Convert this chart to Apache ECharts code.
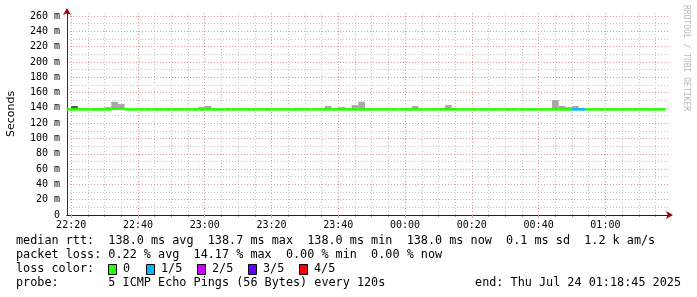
<!DOCTYPE html>
<html>
<head>
<meta charset="UTF-8">
<title>smokeping</title>
<script src="https://cdn.jsdelivr.net/npm/echarts@6/dist/echarts.min.js"></script>
<style>
    html, body { margin: 0; padding: 0; background: #fff; }
    #chart { width: 697px; height: 297px; }
</style>
</head>
<body>
<div id="chart"></div>
<script>
// one slot every 120s, start time of each slot
var slotTimes = [
    '22:18', '22:20', '22:22', '22:24', '22:26', '22:28', '22:30', '22:32', '22:34', '22:36',
    '22:38', '22:40', '22:42', '22:44', '22:46', '22:48', '22:50', '22:52', '22:54', '22:56',
    '22:58', '23:00', '23:02', '23:04', '23:06', '23:08', '23:10', '23:12', '23:14', '23:16',
    '23:18', '23:20', '23:22', '23:24', '23:26', '23:28', '23:30', '23:32', '23:34', '23:36',
    '23:38', '23:40', '23:42', '23:44', '23:46', '23:48', '23:50', '23:52', '23:54', '23:56',
    '23:58', '00:00', '00:02', '00:04', '00:06', '00:08', '00:10', '00:12', '00:14', '00:16',
    '00:18', '00:20', '00:22', '00:24', '00:26', '00:28', '00:30', '00:32', '00:34', '00:36',
    '00:38', '00:40', '00:42', '00:44', '00:46', '00:48', '00:50', '00:52', '00:54', '00:56',
    '00:58', '01:00', '01:02', '01:04', '01:06', '01:08', '01:10', '01:12', '01:14', '01:16'
];
var slotMinutes = 2;

// median rtt (ms)
var medianRtt = [
    138, 138, 138, 138, 138, 138, 138, 139, 139, 138,
    138, 138, 138, 138, 138, 138, 138, 138, 138, 138,
    138, 138, 138, 138, 138, 138, 138, 138, 138, 138,
    138, 138, 138, 138, 138, 138, 138, 138, 138, 138,
    138, 138, 138, 138, 138, 138, 138, 138, 138, 138,
    138, 138, 138, 138, 138, 138, 138, 138, 138, 138,
    138, 138, 138, 138, 138, 138, 138, 138, 138, 138,
    138, 138, 138, 138, 138, 138, 138, 138, 138, 138,
    138, 138, 138, 138, 138, 138, 138, 138, 138, 138
];
// second highest ping (ms)
var ping2nd = [
    138, 142.4, 138, 138, 138, 138, 138, 139, 139, 138,
    138, 138, 138, 138, 138, 138, 138, 138, 138, 138,
    138, 138, 138, 138, 138, 138, 138, 138, 138, 138,
    138, 138, 138, 138, 138, 138, 138, 138, 138, 138,
    138, 138, 138, 138, 138, 138, 138, 138, 138, 138,
    138, 138, 138, 138, 138, 138, 138, 138, 138, 138,
    138, 138, 138, 138, 138, 138, 138, 138, 138, 138,
    138, 138, 138, 138, 138, 138, 138, 138, 138, 138,
    138, 138, 138, 138, 138, 138, 138, 138, 138, 138
];
// highest ping (ms)
var pingMax = [
    138, 142.4, 140, 138, 140, 140, 141, 148, 145, 138,
    138, 138, 138, 138, 138, 138, 138, 138, 138, 138,
    141, 142.5, 138, 138, 138, 138, 138, 138, 138, 138,
    138, 138, 138, 138, 138, 140, 138, 138, 140, 142.5,
    140, 141, 140, 143.7, 148, 140, 138, 138, 138, 138,
    138, 140, 142.5, 138, 138, 138, 140, 143.7, 140, 138,
    138, 138, 138, 138, 138, 138, 138, 138, 138, 138,
    138, 138, 138, 150.2, 142.5, 141, 142.5, 140, 138, 138,
    138, 138, 138, 138, 138, 138, 140, 138, 138, 138
];
// lost pings out of 5
var lostPings = [
    0, 0, 0, 0, 0, 0, 0, 0, 0, 0,
    0, 0, 0, 0, 0, 0, 0, 0, 0, 0,
    0, 0, 0, 0, 0, 0, 0, 0, 0, 0,
    0, 0, 0, 0, 0, 0, 0, 0, 0, 0,
    0, 0, 0, 0, 0, 0, 0, 0, 0, 0,
    0, 0, 0, 0, 0, 0, 0, 0, 0, 0,
    0, 0, 0, 0, 0, 0, 0, 0, 0, 0,
    0, 0, 0, 0, 0, 0, 1, 1, 0, 0,
    0, 0, 0, 0, 0, 0, 0, 0, 0, 0
];

var xStart = '22:18:45', xEnd = '01:18:45';
var xTickLabels = ['22:20', '22:40', '23:00', '23:20', '23:40', '00:00', '00:20', '00:40', '01:00'];
var yTickLabels = [0, 20, 40, 60, 80, 100, 120, 140, 160, 180, 200, 220, 240, 260];
var yMax = 264;

var lossNames = ['0', '1/5', '2/5', '3/5', '4/5'];
var lossColors = ['#26ff00', '#00b8ff', '#d000ff', '#6000ff', '#ff0000'];

var statLines = [
    'median rtt:  138.0 ms avg  138.7 ms max  138.0 ms min  138.0 ms now  0.1 ms sd  1.2 k am/s',
    'packet loss: 0.22 % avg  14.17 % max  0.00 % min  0.00 % now'
];
var probeText = 'probe:       5 ICMP Echo Pings (56 Bytes) every 120s';
var endText = 'end: Thu Jul 24 01:18:45 2025';

// clock -> minutes after 22:00
function toMin(s) {
    var p = s.split(':');
    var h = +p[0];
    if (h < 12) h += 24;
    return (h - 22) * 60 + (+p[1]) + (p[2] ? +p[2] / 60 : 0);
}
function fmtClock(m) {
    var h = (22 + Math.floor(m / 60)) % 24, mm = Math.round(m % 60);
    return (h < 10 ? '0' : '') + h + ':' + (mm < 10 ? '0' : '') + mm;
}

var xMin = toMin(xStart), xMax = toMin(xEnd);
var majorX = xTickLabels.map(toMin);
var minorX = [];
for (var m = Math.ceil(xMin / 5) * 5; m <= xMax; m += 5) minorX.push(m);
var minorY = [];
for (var v = 0; v <= yMax; v += 10) minorY.push(v);

var denseData = [], outerData = [], medianData = [];
slotTimes.forEach(function (t, i) {
    var t0 = toMin(t);
    denseData.push([t0, medianRtt[i], ping2nd[i]]);
    outerData.push([t0, ping2nd[i], pingMax[i]]);
    medianData.push([t0, medianRtt[i], lostPings[i]]);
});

function renderBand(params, api) {
    var t0 = api.value(0), lo = api.value(1), hi = api.value(2);
    if (hi <= lo) return null;
    var a = api.coord([t0, hi]), b = api.coord([t0 + slotMinutes, lo]);
    var r = echarts.graphic.clipRectByRect({x: a[0], y: a[1], width: b[0] - a[0], height: b[1] - a[1]}, params.coordSys);
    if (!r) return null;
    return {type: 'rect', shape: r, style: {fill: api.visual('color')}};
}

function renderMedian(params, api) {
    var t0 = api.value(0), val = api.value(1), loss = api.value(2);
    var a = api.coord([t0, val]), b = api.coord([t0 + slotMinutes, val]);
    var r = echarts.graphic.clipRectByRect({x: a[0], y: a[1] - 1.3, width: b[0] - a[0], height: 2.6}, params.coordSys);
    if (!r) return null;
    return {type: 'rect', shape: r, style: {fill: lossColors[loss]}};
}

var mono = '"DejaVu Sans Mono", monospace';
var minorGrid = {color: '#c4c4c4', type: [1, 2], width: 1};
var majorGrid = {color: '#e49a9a', type: [1, 2], width: 1};
var arrowRed = '#a00000';

var graphics = [];
statLines.forEach(function (s, i) {
    graphics.push({type: 'text', x: 16, y: 241 + i * 14,
        style: {text: s, font: '11.8px ' + mono, fill: '#000', verticalAlign: 'middle'}});
});
graphics.push({type: 'text', x: 16, y: 269,
    style: {text: 'loss color:', font: '11.8px ' + mono, fill: '#000', verticalAlign: 'middle'}});
var legendX = [108, 146, 197, 248, 299];
lossNames.forEach(function (n, i) {
    graphics.push({type: 'rect', shape: {x: legendX[i] + 0.5, y: 264.5, width: 8, height: 10},
        style: {fill: lossColors[i], stroke: '#000', lineWidth: 1}});
    graphics.push({type: 'text', x: legendX[i] + 15, y: 269,
        style: {text: n, font: '11.8px ' + mono, fill: '#000', verticalAlign: 'middle'}});
});
graphics.push({type: 'text', x: 16, y: 283,
    style: {text: probeText, font: '11.8px ' + mono, fill: '#000', verticalAlign: 'middle'}});
graphics.push({type: 'text', x: 681, y: 283,
    style: {text: endText, font: '11.8px ' + mono, fill: '#000', align: 'right', verticalAlign: 'middle'}});
graphics.push({type: 'text', x: 686, y: 5, rotation: -Math.PI / 2,
    style: {text: 'RRDTOOL / TOBI OETIKER', font: '8px ' + mono, fill: '#b8b8b8', verticalAlign: 'middle'}});

var option = {
    animation: false,
    backgroundColor: '#fff',
    grid: {left: 67, right: 29, top: 13, bottom: 82, containLabel: false, outerBoundsMode: 'none'},
    xAxis: [
        {
            type: 'value', min: xMin, max: xMax, z: 0, position: 'bottom',
            axisLine: {show: true, lineStyle: {color: arrowRed}, symbol: ['none', 'arrow'], symbolSize: [6, 7], symbolOffset: [0, 5]},
            axisTick: {show: true, length: 2, customValues: minorX, lineStyle: {color: '#999'}},
            axisLabel: {show: false},
            splitLine: {show: true, lineStyle: minorGrid}
        },
        {
            type: 'value', min: xMin, max: xMax, z: 1, position: 'bottom',
            axisLine: {show: true, lineStyle: {color: '#222'}},
            axisTick: {show: true, length: 3, customValues: majorX, lineStyle: {color: '#e49a9a'}},
            axisLabel: {show: true, customValues: majorX, formatter: fmtClock, fontFamily: mono, fontSize: 10, color: '#000', margin: 5},
            splitLine: {show: true, lineStyle: majorGrid}
        }
    ],
    yAxis: [
        {
            type: 'value', min: 0, max: yMax, z: 0, position: 'left',
            axisLine: {show: true, lineStyle: {color: arrowRed}, symbol: ['none', 'arrow'], symbolSize: [6, 7], symbolOffset: [0, 5]},
            axisTick: {show: false, customValues: minorY},
            axisLabel: {show: false},
            splitLine: {show: true, lineStyle: minorGrid}
        },
        {
            type: 'value', min: 0, max: yMax, z: 1, position: 'left',
            name: 'Seconds', nameLocation: 'middle', nameRotate: 90, nameGap: 50,
            nameTextStyle: {fontFamily: '"DejaVu Sans"', fontSize: 11, color: '#000'},
            axisLine: {show: true, lineStyle: {color: '#333'}},
            axisTick: {show: false, customValues: yTickLabels},
            axisLabel: {show: true, customValues: yTickLabels, fontFamily: mono, fontSize: 10, color: '#000', margin: 7,
                formatter: function (v) { return v === 0 ? '0' : v + ' m'; }},
            splitLine: {show: true, lineStyle: majorGrid}
        }
    ],
    series: [
        {type: 'custom', name: 'smoke2', renderItem: renderBand, data: outerData,
            xAxisIndex: 0, yAxisIndex: 0, itemStyle: {color: '#a8a8a8'}, encode: {x: 0, y: [1, 2]}, z: 2},
        {type: 'custom', name: 'smoke1', renderItem: renderBand, data: denseData,
            xAxisIndex: 0, yAxisIndex: 0, itemStyle: {color: '#555555'}, encode: {x: 0, y: [1, 2]}, z: 3},
        {type: 'custom', name: 'median', renderItem: renderMedian, data: medianData,
            xAxisIndex: 0, yAxisIndex: 0, encode: {x: 0, y: 1}, z: 4}
    ],
    graphic: graphics
};

var chart = echarts.init(document.getElementById('chart'));
chart.setOption(option);
</script>
</body>
</html>
